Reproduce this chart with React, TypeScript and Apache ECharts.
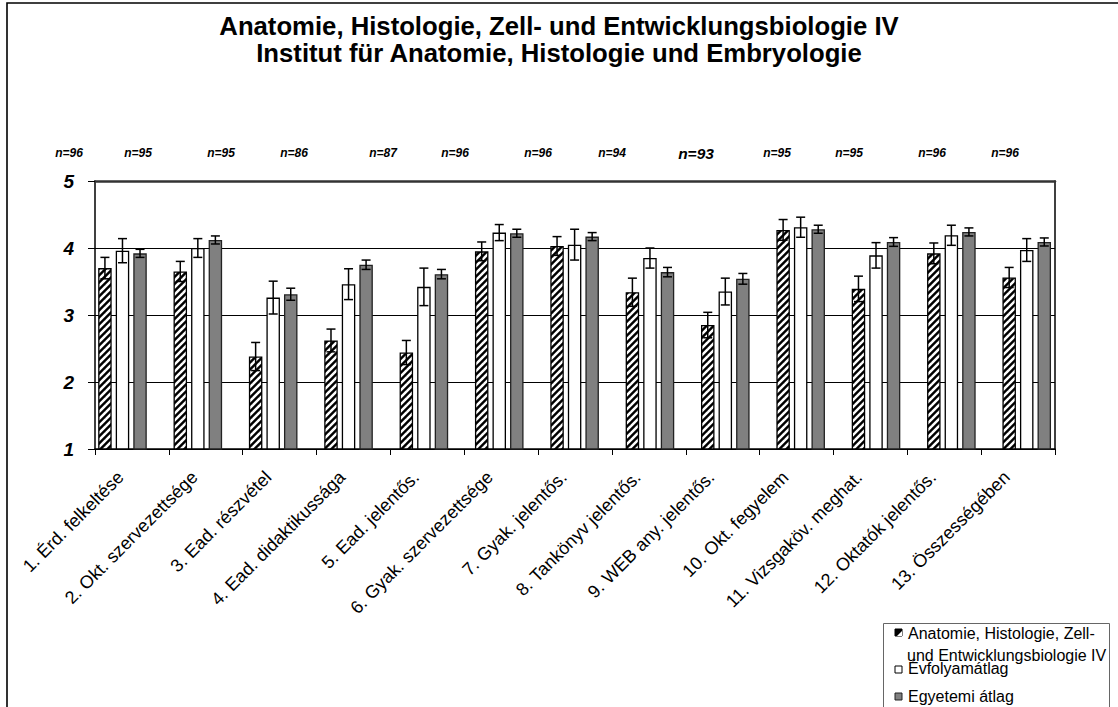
import React, { useEffect, useRef } from "react";
import * as echarts from "echarts";

const titleLines = [
  "Anatomie, Histologie, Zell- und Entwicklungsbiologie IV",
  "Institut für Anatomie, Histologie und Embryologie",
];

const categories = [
  "1. Érd. felkeltése",
  "2. Okt. szervezettsége",
  "3. Ead. részvétel",
  "4. Ead. didaktikussága",
  "5. Ead. jelentős.",
  "6. Gyak. szervezettsége",
  "7. Gyak. jelentős.",
  "8. Tankönyv jelentős.",
  "9. WEB any. jelentős.",
  "10. Okt. fegyelem",
  "11. Vizsgaköv. meghat.",
  "12. Oktatók jelentős.",
  "13. Összességében",
];

const seriesNames = [
  "Anatomie, Histologie, Zell- und Entwicklungsbiologie IV",
  "Évfolyamátlag",
  "Egyetemi átlag",
];

const instituteMeans = [3.7, 3.65, 2.38, 2.62, 2.44, 3.95, 4.03, 3.34, 2.85, 4.27, 3.39, 3.92, 3.56];
const instituteErrors = [0.16, 0.15, 0.21, 0.17, 0.18, 0.14, 0.14, 0.21, 0.19, 0.155, 0.19, 0.155, 0.15];

const yearMeans = [3.96, 4.0, 3.26, 3.46, 3.42, 4.23, 4.05, 3.85, 3.35, 4.31, 3.89, 4.19, 3.97];
const yearErrors = [0.18, 0.14, 0.245, 0.23, 0.28, 0.12, 0.23, 0.15, 0.2, 0.15, 0.19, 0.15, 0.17];

const universityMeans = [3.92, 4.12, 3.31, 3.75, 3.61, 4.22, 4.17, 3.64, 3.54, 4.28, 4.09, 4.24, 4.09];
const universityErrors = [0.06, 0.06, 0.09, 0.07, 0.07, 0.06, 0.06, 0.07, 0.08, 0.06, 0.065, 0.06, 0.06];

const nCounts = [96, 95, 95, 86, 87, 96, 96, 94, 93, 95, 95, 96, 96];

const yTicks = { min: 1, max: 5, interval: 1 };

// layout (not data)
const nLabelX = [69, 138, 221, 294, 383, 455, 538, 612, 696, 777, 849, 932, 1005];
const nLabelY = 153;

const FONT = "'Liberation Sans', Arial, Helvetica, sans-serif";
const BAR_W = 13.5;
const BAR_GAP = 0.3;
const OFFSET = BAR_W * (1 + BAR_GAP);

function makeHatch() {
  const s = 7;
  const c = document.createElement("canvas");
  c.width = s;
  c.height = s;
  const ctx = c.getContext("2d")!;
  ctx.fillStyle = "#000";
  ctx.fillRect(0, 0, s, s);
  ctx.strokeStyle = "#fff";
  ctx.lineWidth = 2.5;
  for (const cc of [0, s, 2 * s]) {
    ctx.beginPath();
    ctx.moveTo(cc + 1, -1);
    ctx.lineTo(cc - s - 1, s + 1);
    ctx.stroke();
  }
  return c;
}

function errSeries(vals: number[], errs: number[], k: number) {
  return {
    type: "custom",
    xAxisIndex: 2,
    yAxisIndex: 2,
    z: 10,
    silent: true,
    data: vals.map((v, i) => [i, v, errs[i]]),
    encode: { x: 0, y: 1 },
    renderItem: (_params: any, api: any) => {
      const i = api.value(0);
      const v = api.value(1);
      const e = api.value(2);
      const hi = api.coord([i, v + e]);
      const lo = api.coord([i, v - e]);
      const x = hi[0] + (k - 1) * OFFSET;
      const cap = 4.5;
      const st = { stroke: "#000", lineWidth: 1.5 };
      return {
        type: "group",
        children: [
          { type: "line", shape: { x1: x, y1: hi[1], x2: x, y2: lo[1] }, style: st },
          { type: "line", shape: { x1: x - cap, y1: hi[1], x2: x + cap, y2: hi[1] }, style: st },
          { type: "line", shape: { x1: x - cap, y1: lo[1], x2: x + cap, y2: lo[1] }, style: st },
        ],
      };
    },
  };
}

export default function App() {
  const ref = useRef<HTMLDivElement>(null);
  useEffect(() => {
    if (!ref.current) return;
    const chart = echarts.init(ref.current, null, { renderer: "svg" });
    const hatch = makeHatch();
    const hatchFill: any = { image: hatch, repeat: "repeat", imageWidth: 7, imageHeight: 7 };

    const barBase = {
      type: "bar",
      xAxisIndex: 2,
      yAxisIndex: 2,
      barWidth: BAR_W,
      barGap: BAR_GAP * 100 + "%",
      silent: true,
    };

    const nTexts = nCounts.map((n, i) => ({
      type: "text",
      x: nLabelX[i],
      y: nLabelY,
      style: {
        text: "n=" + n,
        fill: "#000",
        font: n === 93 ? `italic bold 15.5px ${FONT}` : `italic bold 12px ${FONT}`,
        align: "center",
        verticalAlign: "middle",
      },
    }));

    const legendX = 895;
    const legendTextX = 908;
    const legendFont = `16px ${FONT}`;

    const option: any = {
      animation: false,
      backgroundColor: "#fff",
      title: {
        text: titleLines.join("\n"),
        left: "center",
        top: 7,
        textStyle: {
          fontFamily: FONT,
          fontSize: 25.7,
          fontWeight: "bold",
          color: "#000",
          lineHeight: 27,
        },
      },
      grid: [
        { left: 95, top: 181, right: 63, bottom: 258, containLabel: false },
        { left: 84.8, top: 181, right: 53.6, bottom: 258, containLabel: false },
      ],
      xAxis: [
        {
          type: "category",
          gridIndex: 0,
          data: categories,
          position: "bottom",
          boundaryGap: true,
          axisLine: { show: true, lineStyle: { color: "#000", width: 1.5 } },
          axisTick: { show: true, length: 6, lineStyle: { color: "#000", width: 1 } },
          axisLabel: {
            interval: 0,
            rotate: 45,
            margin: 14,
            padding: [0, 16, 0, 0],
            color: "#000",
            fontFamily: FONT,
            fontSize: 18,
          },
          splitLine: { show: false },
        },
        {
          type: "category",
          gridIndex: 0,
          data: categories,
          position: "top",
          axisLine: { show: true, lineStyle: { color: "#333", width: 2.5 } },
          axisTick: { show: false },
          axisLabel: { show: false },
          splitLine: { show: false },
        },
        {
          type: "category",
          gridIndex: 1,
          data: categories,
          show: false,
        },
      ],
      yAxis: [
        {
          type: "value",
          gridIndex: 0,
          min: yTicks.min,
          max: yTicks.max,
          interval: yTicks.interval,
          axisLine: { show: true, lineStyle: { color: "#000", width: 1.5 } },
          axisTick: { show: true, length: 7, lineStyle: { color: "#000", width: 1 } },
          axisLabel: {
            margin: 21,
            color: "#000",
            fontFamily: FONT,
            fontSize: 19,
            fontWeight: "bold",
            fontStyle: "italic",
          },
          splitLine: { show: true, lineStyle: { color: "#000", width: 1 } },
        },
        {
          type: "value",
          gridIndex: 0,
          position: "right",
          min: yTicks.min,
          max: yTicks.max,
          interval: yTicks.interval,
          axisLine: { show: true, lineStyle: { color: "#000", width: 1.5 } },
          axisTick: { show: false },
          axisLabel: { show: false },
          splitLine: { show: false },
        },
        {
          type: "value",
          gridIndex: 1,
          min: yTicks.min,
          max: yTicks.max,
          interval: yTicks.interval,
          show: false,
          splitLine: { show: false },
        },
      ],
      series: [
        {
          ...barBase,
          name: seriesNames[0],
          data: instituteMeans,
          itemStyle: { color: hatchFill, borderColor: "#000", borderWidth: 1.3 },
        },
        {
          ...barBase,
          name: seriesNames[1],
          data: yearMeans,
          itemStyle: { color: "#fff", borderColor: "#000", borderWidth: 1.3 },
        },
        {
          ...barBase,
          name: seriesNames[2],
          data: universityMeans,
          itemStyle: { color: "#808080", borderColor: "#222", borderWidth: 1.3 },
        },
        errSeries(instituteMeans, instituteErrors, 0),
        errSeries(yearMeans, yearErrors, 1),
        errSeries(universityMeans, universityErrors, 2),
      ],
      graphic: [
        {
          type: "rect",
          z: -1,
          shape: { x: 7, y: 3, width: 1200, height: 800 },
          style: { fill: "none", stroke: "#000", lineWidth: 1.6 },
          silent: true,
        },
        ...nTexts,
        {
          type: "rect",
          shape: { x: 883.5, y: 623.5, width: 226, height: 100 },
          style: { fill: "#fff", stroke: "#666", lineWidth: 1 },
          silent: true,
        },
        {
          type: "rect",
          shape: { x: legendX, y: 629, width: 7, height: 7 },
          style: { fill: "#000", stroke: "#000", lineWidth: 1 },
        },
        {
          type: "polygon",
          shape: { points: [[legendX + 7, 631], [legendX + 7, 636], [legendX + 2, 636]] },
          style: { fill: "#fff" },
        },
        {
          type: "rect",
          shape: { x: legendX, y: 666, width: 7, height: 7 },
          style: { fill: "#fff", stroke: "#000", lineWidth: 1 },
        },
        {
          type: "rect",
          shape: { x: legendX, y: 693, width: 7, height: 7 },
          style: { fill: "#808080", stroke: "#222", lineWidth: 1 },
        },
        {
          type: "text",
          x: legendTextX,
          y: 633,
          style: { text: "Anatomie, Histologie, Zell-", font: legendFont, fill: "#000", verticalAlign: "middle" },
        },
        {
          type: "text",
          x: legendTextX - 1,
          y: 655,
          style: { text: "und Entwicklungsbiologie IV", font: legendFont, fill: "#000", verticalAlign: "middle" },
        },
        {
          type: "text",
          x: legendTextX,
          y: 668,
          style: { text: seriesNames[1], font: legendFont, fill: "#000", verticalAlign: "middle" },
        },
        {
          type: "text",
          x: legendTextX,
          y: 696,
          style: { text: seriesNames[2], font: legendFont, fill: "#000", verticalAlign: "middle" },
        },
      ],
    };
    chart.setOption(option);
    return () => chart.dispose();
  }, []);
  return (
    <div
      ref={ref}
      style={{ position: "absolute", left: 0, top: 0, width: 1118, height: 707, background: "#fff" }}
    />
  );
}
